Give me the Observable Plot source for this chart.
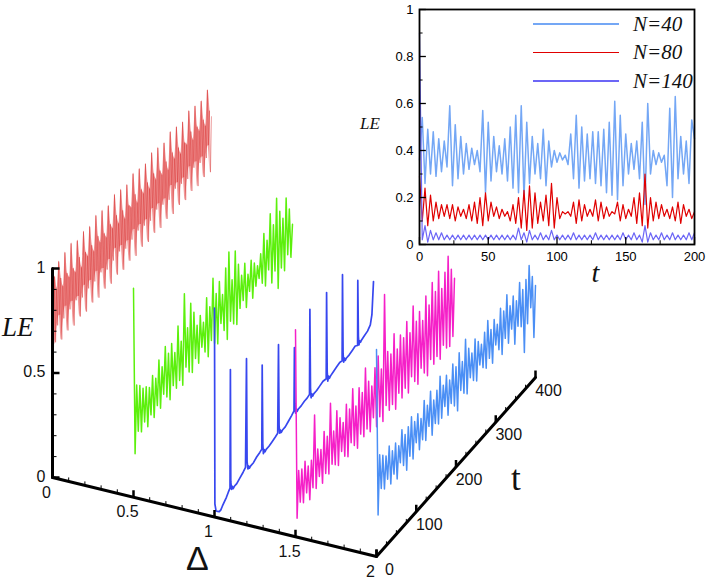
<!DOCTYPE html>
<html><head><meta charset="utf-8">
<script src="https://cdn.jsdelivr.net/npm/d3@7"></script>
<script src="https://cdn.jsdelivr.net/npm/@observablehq/plot@0.6"></script>
<style>
body{margin:0;background:#fff}
#wrap{position:relative;width:706px;height:581px;overflow:hidden}
#main{position:absolute;left:0;top:0}
#inset{position:absolute;left:350px;top:0}
.lg{position:absolute;left:533px;height:26px;display:flex;align-items:center;font:italic 21px "Liberation Serif","Times New Roman",serif;color:#111}
.lg span{display:inline-block;width:86px;margin-right:14px}
.ttl{position:absolute;line-height:1;color:#111;white-space:nowrap}
.serif{font-family:"Liberation Serif","Times New Roman",serif}
.sans{font-family:"Liberation Sans",Arial,sans-serif}
</style></head>
<body><div id="wrap"><div id="main"></div><div id="inset"></div>
<div class="lg" style="top:11px"><span style="border-top:2.2px solid #74a7f5"></span>N=40</div>
<div class="lg" style="top:39px"><span style="border-top:1.6px solid #e00000"></span>N=80</div>
<div class="lg" style="top:68px"><span style="border-top:2.2px solid #6c66f6"></span>N=140</div>
<div class="ttl serif" style="left:2px;top:314px;font-size:27px;font-style:italic">LE</div>
<div class="ttl sans" style="left:186px;top:541px;font-size:34px">Δ</div>
<div class="ttl serif" style="left:511px;top:461px;font-size:35px">t</div>
</div>
<script>
// ---------- main 3D chart data (LE vs time, for each Δ) ----------
const deltas = [0, 0.5, 1, 1.5, 2];
const redLE = [
0.82,0.62,0.95,0.63,0.88,0.70, 1.00,0.74,0.91,0.61,0.86,0.70, 1.01,0.75,0.90,0.62,0.87,0.71,
1.02,0.74,0.89,0.61,0.86,0.72, 1.00,0.73,0.91,0.62,0.85,0.70, 1.01,0.75,0.90,0.61,0.87,0.71,
1.00,0.74,0.90,0.62,0.86,0.71, 1.02,0.75,0.91,0.61,0.87,0.72, 1.01,0.73,0.89,0.62,0.86,0.70,
1.00,0.74,0.90,0.61,0.87,0.71, 1.02,0.76,0.91,0.62,0.86,0.72, 1.01,0.74,0.90,0.61,0.85,0.70,
1.00,0.73,0.89,0.62,0.87,0.71, 1.02,0.75,0.91,0.61,0.86,0.72, 1.01,0.74,0.90,0.62,0.87,0.71,
1.00,0.73,0.90,0.61,0.86,0.70, 1.02,0.75,0.91,0.62,0.87,0.72, 1.01,0.74,0.89,0.61,0.86,0.71,
1.00,0.73,0.90,0.62,0.85,0.70, 1.02,0.76,0.91,0.61,0.87,0.72, 1.01,0.74,0.90,0.62,0.86,0.71,
1.00,0.73,0.89,0.61,0.87,0.70, 1.02,0.75,0.91,0.62,0.86,0.72, 1.01,0.74,0.90,0.61,0.87,0.71,
1.00,0.73,0.90,0.62,0.86,0.70, 1.02,0.75,0.91,0.61,0.87];
const greenLE = [
1.00,0.20,0.52,0.29,0.50,0.27,0.47,0.30,0.46,0.26,
0.44,0.30,0.48,0.27,0.45,0.31,0.52,0.28,0.47,0.33,
0.55,0.30,0.50,0.27,0.53,0.32,0.47,0.29,0.58,0.31,
0.49,0.27,0.70,0.34,0.52,0.30,0.62,0.28,0.56,0.33,
0.48,0.29,0.51,0.35,0.46,0.31,0.56,0.27,0.50,0.33,
0.62,0.30,0.53,0.28,0.57,0.36,0.49,0.31,0.60,0.25,
0.66,0.32,0.51,0.29,0.63,0.27,0.55,0.33,0.48,0.35,
0.52,0.30,0.45,0.36,0.50,0.31,0.47,0.35,0.44,0.37,
0.48,0.33,0.56,0.30,0.51,0.36,0.62,0.28,0.55,0.32,
0.66,0.22,0.58,0.30,0.53,0.27,0.61,0.33,0.54,0.30,
0.45];
const blueT = [0,1,4,8,12,16,20,25,30,35,39,
40,41,43,45,47,50,56,64,72,78,
80.5,82,84,86,88,91,98,106,114,119,
120,121.5,123,125,127,130,137,145,153,159,
161,162.5,164,166,168,171,178,186,194,200,
201,202.5,204,206,208,211,218,226,233,239,
240,241.5,243,245,247,250,257,265,273,281,
282,283.5,285,287,289,292,299,307,315,321,
322,323.5,325,327,329,332,339,347,354,360,
360.5,362,363.5,365.5,367.5,370,377,385,392,396,400];
const blueLE = [1.00,0.06,0.02,0.01,0.00,0.00,0.01,0.02,0.03,0.045,0.055,
0.62,0.08,0.04,0.05,0.035,0.04,0.04,0.05,0.06,0.07,
0.585,0.09,0.05,0.06,0.045,0.05,0.05,0.06,0.065,0.07,
0.47,0.09,0.04,0.055,0.04,0.045,0.045,0.05,0.055,0.06,
0.48,0.09,0.05,0.06,0.045,0.05,0.05,0.06,0.07,0.08,
0.38,0.11,0.06,0.075,0.06,0.065,0.065,0.07,0.07,0.075,
0.48,0.10,0.05,0.065,0.05,0.055,0.055,0.06,0.065,0.06,
0.47,0.09,0.04,0.06,0.045,0.05,0.055,0.06,0.065,0.06,
0.47,0.09,0.045,0.06,0.045,0.05,0.05,0.055,0.06,0.05,
0.36,0.09,0.045,0.06,0.05,0.055,0.06,0.065,0.08,0.12,0.27];
const pinkLE = [
0.99,0.08,0.30,0.14,0.29,0.12,0.31,0.15,0.27,0.10,
0.28,0.14,0.48,0.12,0.30,0.16,0.28,0.11,0.35,0.14,
0.31,0.12,0.45,0.15,0.30,0.13,0.38,0.11,0.33,0.16,
0.29,0.12,0.36,0.10,0.32,0.15,0.40,0.12,0.30,0.09,
0.37,0.14,0.33,0.11,0.43,0.13,0.35,0.10,0.31,0.15,
0.38,0.09,0.42,0.12,0.34,0.08,0.68,0.14,0.39,0.10,
0.36,0.11,0.44,0.07,0.35,0.13,0.40,0.09,0.37,0.12,
0.43,0.08,0.36,0.14,0.47,0.10,0.38,0.07,0.41,0.13,
0.35,0.09,0.45,0.06,0.39,0.12,0.48,0.08,0.42,0.10,
0.50,0.07,0.40,0.12,0.46,0.09,0.52,0.08,0.44,0.11,
0.38];
const lightLE = [
0.99,0.19,0.47,0.30,0.45,0.28,0.43,0.31,0.46,0.27,
0.42,0.30,0.44,0.26,0.41,0.32,0.47,0.29,0.43,0.25,
0.45,0.30,0.48,0.27,0.44,0.33,0.46,0.28,0.42,0.31,
0.49,0.29,0.45,0.34,0.50,0.28,0.44,0.32,0.47,0.30,
0.52,0.31,0.46,0.35,0.49,0.29,0.45,0.33,0.51,0.30,
0.48,0.26,0.53,0.34,0.47,0.31,0.56,0.29,0.50,0.35,
0.46,0.32,0.51,0.30,0.48,0.36,0.45,0.33,0.49,0.31,
0.53,0.34,0.47,0.30,0.50,0.37,0.46,0.33,0.52,0.29,
0.49,0.35,0.55,0.31,0.48,0.36,0.51,0.27,0.47,0.34,
0.54,0.32,0.49,0.18,0.52,0.30,0.57,0.36,0.50,0.20,
0.44];
const tMax = 400;
// axis ticks
const deltaMajor = [0, 0.5, 1, 1.5, 2];
const deltaMinor = [0.1,0.2,0.3,0.4,0.6,0.7,0.8,0.9,1.1,1.2,1.3,1.4,1.6,1.7,1.8,1.9];
const deltaLabels = ["0","0.5","1","1.5","2"];
const tMajor = [0, 100, 200, 300, 400];
const tMinor = [25,50,75,125,150,175,225,250,275,325,350,375];
const leMajor = [0, 0.5, 1];
const leMinor = [0.1,0.2,0.3,0.4,0.6,0.7,0.8,0.9];
const leLabels = ["0","0.5","1"];

// ---------- inset data (t = 0..200) ----------
const insetTMax = 200;
const n40 = [
0.36,0.54,0.26,0.49,0.30,0.48,0.29,0.45,0.31,0.44,
0.33,0.59,0.25,0.51,0.28,0.46,0.30,0.43,0.32,0.41,
0.34,0.40,0.31,0.57,0.22,0.52,0.27,0.46,0.31,0.42,
0.30,0.45,0.27,0.50,0.24,0.55,0.22,0.59,0.20,0.52,
0.26,0.46,0.30,0.43,0.28,0.49,0.25,0.44,0.33,0.40,
0.35,0.39,0.36,0.38,0.34,0.47,0.28,0.55,0.24,0.50,
0.27,0.47,0.28,0.48,0.26,0.48,0.25,0.49,0.22,0.52,
0.21,0.61,0.19,0.55,0.25,0.47,0.30,0.43,0.32,0.44,
0.28,0.52,0.17,0.60,0.30,0.40,0.34,0.39,0.35,0.38,
0.25,0.58,0.20,0.63,0.28,0.46,0.30,0.44,0.26,0.53,
0.45];
const n80 = [
0.29,0.10,0.24,0.08,0.21,0.10,0.18,0.11,0.17,0.12,
0.17,0.11,0.17,0.10,0.16,0.12,0.15,0.11,0.17,0.10,
0.18,0.09,0.20,0.08,0.22,0.10,0.18,0.12,0.16,0.11,
0.15,0.12,0.14,0.10,0.17,0.09,0.20,0.07,0.23,0.06,
0.25,0.07,0.22,0.09,0.18,0.10,0.21,0.08,0.26,0.07,
0.20,0.11,0.14,0.13,0.14,0.12,0.18,0.09,0.19,0.10,
0.17,0.12,0.15,0.12,0.19,0.10,0.18,0.11,0.16,0.12,
0.14,0.13,0.18,0.10,0.17,0.11,0.15,0.12,0.20,0.09,
0.22,0.08,0.30,0.07,0.20,0.10,0.18,0.11,0.17,0.12,
0.15,0.11,0.16,0.10,0.18,0.09,0.17,0.12,0.15,0.11,
0.14];
const n140 = [
0.90,0.02,0.08,0.01,0.06,0.02,0.05,0.02,0.05,0.02,
0.04,0.02,0.04,0.02,0.04,0.02,0.04,0.02,0.04,0.02,
0.04,0.02,0.04,0.02,0.04,0.02,0.04,0.02,0.04,0.02,
0.04,0.02,0.04,0.02,0.04,0.02,0.07,0.02,0.05,0.01,
0.06,0.02,0.04,0.02,0.05,0.02,0.04,0.02,0.06,0.02,
0.04,0.02,0.04,0.02,0.04,0.02,0.05,0.02,0.04,0.02,
0.04,0.02,0.04,0.02,0.05,0.02,0.04,0.02,0.04,0.02,
0.04,0.02,0.04,0.02,0.05,0.02,0.04,0.02,0.05,0.02,
0.04,0.01,0.08,0.01,0.05,0.02,0.04,0.02,0.05,0.02,
0.04,0.02,0.05,0.02,0.04,0.02,0.04,0.02,0.05,0.02,
0.05];
const insetXTicks = [0,50,100,150,200];
const insetXMinor = [25,75,125,175];
const insetYTicks = [0,0.2,0.4,0.6,0.8,1];
const insetYMinor = [0.1,0.3,0.5,0.7,0.9];

// ---------- oblique projection (axis geometry) ----------
const O = {x:52, y:477};           // origin pixel
const DX = 162, DY = 39.5;          // per unit Δ
const TX = 159/400, TY = -179/400;  // per unit t
const LZ = 209;                     // per unit LE
const PX = (dl, t) => O.x + DX*dl + TX*t;
const PY = (dl, t, le) => O.y + DY*dl + TY*t - LZ*le;

function uniformRows(dl, vals){
  const n = vals.length;
  return vals.map((v,i)=>({dl, t: i*tMax/(n-1), le: v}));
}
const redRows = uniformRows(deltas[0], redLE);
// envelope of the fast oscillation: consecutive (high, low) pairs
const redEnv = [];
for (let i = 0; i + 1 < redRows.length; i += 2) {
  const a = redRows[i], b = redRows[i+1];
  redEnv.push({dl: a.dl, t: (a.t + b.t)/2, lo: Math.min(a.le, b.le), hi: Math.max(a.le, b.le)});
}
const series = [
  {rows: uniformRows(deltas[1], greenLE), stroke:"#5cf00c", w:1.5, op:1},
  {rows: blueLE.map((v,i)=>({dl:deltas[2], t:blueT[i], le:v})), stroke:"#3747ef", w:1.7, op:1},
  {rows: uniformRows(deltas[3], pinkLE), stroke:"#f520c8", w:1.5, op:1},
  {rows: uniformRows(deltas[4], lightLE), stroke:"#4b8ff5", w:1.5, op:1}
];

const TL = 7, TLm = 4;
const SERIF = "Liberation Serif";
const mainMarks = [
  Plot.areaY(redEnv, {x: d=>PX(d.dl,d.t), y1: d=>PY(d.dl,d.t,d.lo), y2: d=>PY(d.dl,d.t,d.hi), fill:"#ec7272", fillOpacity:0.72, curve:"monotone-x"}),
  Plot.line(redRows, {x: d=>PX(d.dl,d.t), y: d=>PY(d.dl,d.t,d.le), stroke:"#d42626", strokeWidth:0.8, strokeOpacity:0.5})
];
for (const s of series){
  mainMarks.push(Plot.line(s.rows, {x: d=>PX(d.dl,d.t), y: d=>PY(d.dl,d.t,d.le), stroke: s.stroke, strokeWidth: s.w, strokeOpacity: s.op}));
}
mainMarks.push(
  // LE axis
  Plot.line([0,1], {x: ()=>PX(0,0), y: d=>PY(0,0,d), stroke:"#000", strokeWidth:3}),
  Plot.link(leMajor, {x1: ()=>PX(0,0), x2: ()=>PX(0,0)+TL, y1: d=>PY(0,0,d), y2: d=>PY(0,0,d), stroke:"#000", strokeWidth:2.5}),
  Plot.link(leMinor, {x1: ()=>PX(0,0), x2: ()=>PX(0,0)+TLm, y1: d=>PY(0,0,d), y2: d=>PY(0,0,d), stroke:"#000", strokeWidth:1}),
  Plot.text(leMajor, {x: ()=>PX(0,0), y: d=>PY(0,0,d), text: (d,i)=>leLabels[i], dx:-7, dy:-1, textAnchor:"end", fontSize:16, fill:"#111"}),
  // Δ axis
  Plot.line([0,2], {x: d=>PX(d,0), y: d=>PY(d,0,0), stroke:"#000", strokeWidth:3}),
  Plot.link(deltaMajor, {x1: d=>PX(d,0), x2: d=>PX(d,0), y1: d=>PY(d,0,0), y2: d=>PY(d,0,0)-TL, stroke:"#000", strokeWidth:2.5}),
  Plot.link(deltaMinor, {x1: d=>PX(d,0), x2: d=>PX(d,0), y1: d=>PY(d,0,0), y2: d=>PY(d,0,0)-TLm, stroke:"#000", strokeWidth:1}),
  Plot.text(deltaMajor, {x: d=>PX(d,0), y: d=>PY(d,0,0), text: (d,i)=>deltaLabels[i], dx:-6, dy:15, fontSize:16, fill:"#111"}),
  // t axis
  Plot.line([0,tMax], {x: d=>PX(2,d), y: d=>PY(2,d,0), stroke:"#000", strokeWidth:3}),
  Plot.link(tMajor, {x1: d=>PX(2,d), x2: d=>PX(2,d), y1: d=>PY(2,d,0), y2: d=>PY(2,d,0)-TL, stroke:"#000", strokeWidth:2.5}),
  Plot.link(tMinor, {x1: d=>PX(2,d), x2: d=>PX(2,d), y1: d=>PY(2,d,0), y2: d=>PY(2,d,0)-TLm, stroke:"#000", strokeWidth:1}),
  Plot.text(tMajor, {x: d=>PX(2,d), y: d=>PY(2,d,0), text: d=>String(d), dx:13, dy:13, fontSize:16, fill:"#111"})
);

const main = Plot.plot({
  width:706, height:581, margin:0,
  x:{domain:[0,706], range:[0,706], axis:null},
  y:{domain:[0,581], range:[0,581], axis:null},
  style:{fontFamily:"Liberation Sans, Arial, sans-serif", background:"transparent"},
  marks: mainMarks
});
document.getElementById("main").append(main);

// ---------- inset ----------
const iRows = vals => vals.map((v,i)=>({t: i*insetTMax/(vals.length-1), le: v}));
const inset = Plot.plot({
  width:356, height:290, marginLeft:69, marginRight:12, marginTop:9, marginBottom:46,
  x:{domain:[0,insetTMax]}, y:{domain:[0,1]},
  style:{fontFamily:"Liberation Sans, Arial, sans-serif", fontSize:"13px", background:"transparent"},
  marks:[
    Plot.line(iRows(n40), {x:"t", y:"le", stroke:"#74a7f5", strokeWidth:1.5}),
    Plot.line(iRows(n80), {x:"t", y:"le", stroke:"#e00000", strokeWidth:1.2}),
    Plot.line(iRows(n140), {x:"t", y:"le", stroke:"#6c66f6", strokeWidth:1.2}),
    Plot.frame({stroke:"#000", strokeWidth:1.8}),
    Plot.ruleX(insetXTicks, {x:d=>d, y1:0, y2:0.03, stroke:"#000", strokeWidth:1.3}),
    Plot.ruleX(insetXMinor, {x:d=>d, y1:0, y2:0.016, stroke:"#000", strokeWidth:1}),
    Plot.ruleY(insetYTicks, {y:d=>d, x1:0, x2:5, stroke:"#000", strokeWidth:1.3}),
    Plot.ruleY(insetYMinor, {y:d=>d, x1:0, x2:2.6, stroke:"#000", strokeWidth:1}),
    Plot.axisX(insetXTicks, {tickSize:0, tickPadding:7, label:null, fontSize:13, tickFormat:d=>String(d)}),
    Plot.axisY(insetYTicks, {tickSize:0, tickPadding:6, label:null, fontSize:13, tickFormat:d=>String(d)}),
    Plot.text(["LE"], {x:()=>-36, y:()=>0.515, text:d=>d, fontSize:17, fontStyle:"italic", fontFamily:SERIF, fill:"#111"}),
    Plot.text(["t"], {x:()=>128, y:()=>-0.12, text:d=>d, fontSize:28, fontStyle:"italic", fontFamily:SERIF, fill:"#111"})
  ]
});
document.getElementById("inset").append(inset);
</script>
</body></html>
